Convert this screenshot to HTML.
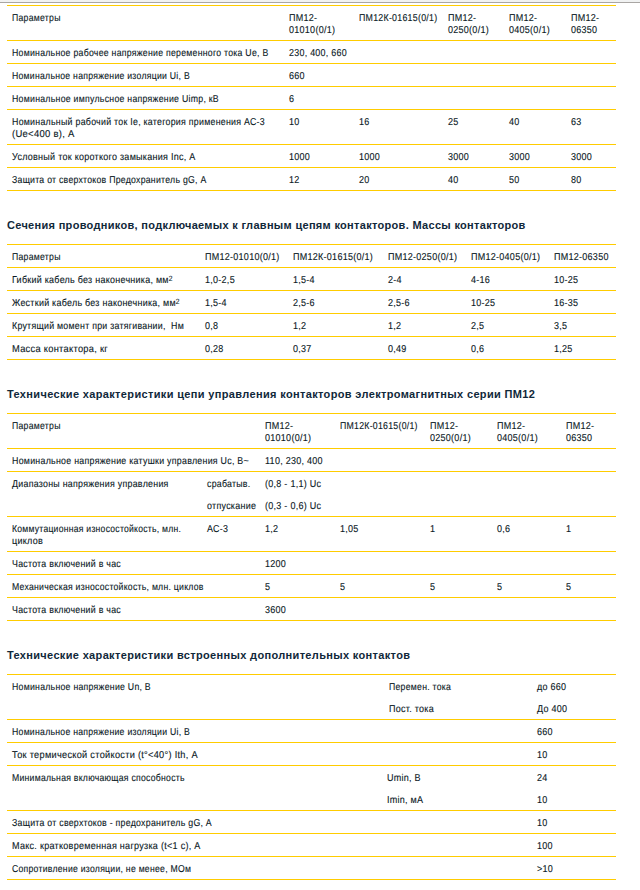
<!DOCTYPE html>
<html><head><meta charset="utf-8">
<style>
html,body{margin:0;padding:0;background:#fff;}
body{width:640px;height:890px;position:relative;overflow:hidden;}
.top0{position:absolute;left:0;top:0;width:640px;height:2px;background:#f1f2f2;}
.top1{position:absolute;left:0;top:2px;width:640px;height:1px;background:#a9a6a3;}
.ln{position:absolute;height:1px;background:#ffcc00;}
sup{font-size:7.5px;line-height:0;vertical-align:2px;}
.t{position:absolute;white-space:nowrap;text-rendering:geometricPrecision;font-family:"Liberation Sans",sans-serif;font-size:10px;line-height:12px;color:#0a1824;letter-spacing:0.3px;-webkit-text-stroke:0.12px #0a1824;transform-origin:0 0;transform:scaleX(0.9);}
.h{position:absolute;white-space:nowrap;font-family:"Liberation Sans",sans-serif;font-size:11px;font-weight:bold;line-height:14px;color:#10283a;}
</style></head><body>
<div class="top0"></div><div class="top1"></div>
<div class="ln" style="top:5px;left:7px;width:609px"></div>
<div class="ln" style="top:40px;left:7px;width:609px"></div>
<div class="ln" style="top:63px;left:7px;width:609px"></div>
<div class="ln" style="top:86px;left:7px;width:609px"></div>
<div class="ln" style="top:109px;left:7px;width:609px"></div>
<div class="ln" style="top:144px;left:7px;width:609px"></div>
<div class="ln" style="top:167px;left:7px;width:609px"></div>
<div class="ln" style="top:190px;left:7px;width:609px"></div>
<span class="t" style="left:12.0px;top:13px;transform:scaleX(0.8686)">Параметры</span>
<span class="t" style="left:289.0px;top:13px;transform:scaleX(0.9000)">ПМ12-</span>
<span class="t" style="left:289.0px;top:25px;transform:scaleX(0.9000)">01010(0/1)</span>
<span class="t" style="left:359.0px;top:13px;transform:scaleX(0.8809)">ПМ12К-01615(0/1)</span>
<span class="t" style="left:448.0px;top:13px;transform:scaleX(0.9000)">ПМ12-</span>
<span class="t" style="left:448.0px;top:25px;transform:scaleX(0.9000)">0250(0/1)</span>
<span class="t" style="left:509.0px;top:13px;transform:scaleX(0.9000)">ПМ12-</span>
<span class="t" style="left:509.0px;top:25px;transform:scaleX(0.9000)">0405(0/1)</span>
<span class="t" style="left:571.0px;top:13px;transform:scaleX(0.9000)">ПМ12-</span>
<span class="t" style="left:571.0px;top:25px;transform:scaleX(0.9000)">06350</span>
<span class="t" style="left:12.0px;top:48px;transform:scaleX(0.8725)">Номинальное рабочее напряжение переменного тока Ue, В</span>
<span class="t" style="left:289.0px;top:48px;transform:scaleX(0.8909)">230, 400, 660</span>
<span class="t" style="left:12.0px;top:71px;transform:scaleX(0.8682)">Номинальное напряжение изоляции Ui, В</span>
<span class="t" style="left:289.0px;top:71px;transform:scaleX(0.9000)">660</span>
<span class="t" style="left:12.0px;top:94px;transform:scaleX(0.8750)">Номинальное импульсное напряжение Uimp, кВ</span>
<span class="t" style="left:289.0px;top:94px;transform:scaleX(0.9000)">6</span>
<span class="t" style="left:12.0px;top:117px;transform:scaleX(0.8813)">Номинальный рабочий ток Ie, категория применения АС-3</span>
<span class="t" style="left:12.0px;top:129px;transform:scaleX(0.9449)">(Ue&lt;400 в), А</span>
<span class="t" style="left:289.0px;top:117px;transform:scaleX(0.9000)">10</span>
<span class="t" style="left:359.0px;top:117px;transform:scaleX(0.9000)">16</span>
<span class="t" style="left:448.0px;top:117px;transform:scaleX(0.9000)">25</span>
<span class="t" style="left:509.0px;top:117px;transform:scaleX(0.9000)">40</span>
<span class="t" style="left:571.0px;top:117px;transform:scaleX(0.9000)">63</span>
<span class="t" style="left:12.0px;top:152px;transform:scaleX(0.8997)">Условный ток короткого замыкания Inc, А</span>
<span class="t" style="left:289.0px;top:152px;transform:scaleX(0.9000)">1000</span>
<span class="t" style="left:359.0px;top:152px;transform:scaleX(0.9000)">1000</span>
<span class="t" style="left:448.0px;top:152px;transform:scaleX(0.9000)">3000</span>
<span class="t" style="left:509.0px;top:152px;transform:scaleX(0.9000)">3000</span>
<span class="t" style="left:571.0px;top:152px;transform:scaleX(0.9000)">3000</span>
<span class="t" style="left:12.0px;top:175px;transform:scaleX(0.8713)">Защита от сверхтоков Предохранитель gG, А</span>
<span class="t" style="left:289.0px;top:175px;transform:scaleX(0.9000)">12</span>
<span class="t" style="left:359.0px;top:175px;transform:scaleX(0.9000)">20</span>
<span class="t" style="left:448.0px;top:175px;transform:scaleX(0.9000)">40</span>
<span class="t" style="left:509.0px;top:175px;transform:scaleX(0.9000)">50</span>
<span class="t" style="left:571.0px;top:175px;transform:scaleX(0.9000)">80</span>
<span class="h" style="left:7px;top:218px;letter-spacing:0.31px">Сечения проводников, подключаемых к главным цепям контакторов. Массы контакторов</span>
<div class="ln" style="top:244px;left:7px;width:609px"></div>
<div class="ln" style="top:267px;left:7px;width:609px"></div>
<div class="ln" style="top:290px;left:7px;width:609px"></div>
<div class="ln" style="top:313px;left:7px;width:609px"></div>
<div class="ln" style="top:336px;left:7px;width:609px"></div>
<div class="ln" style="top:359px;left:7px;width:609px"></div>
<span class="t" style="left:12.3px;top:252px;transform:scaleX(0.8686)">Параметры</span>
<span class="t" style="left:205.0px;top:252px;transform:scaleX(0.9000)">ПМ12-01010(0/1)</span>
<span class="t" style="left:293.0px;top:252px;transform:scaleX(0.9000)">ПМ12К-01615(0/1)</span>
<span class="t" style="left:388.0px;top:252px;transform:scaleX(0.9000)">ПМ12-0250(0/1)</span>
<span class="t" style="left:471.0px;top:252px;transform:scaleX(0.9000)">ПМ12-0405(0/1)</span>
<span class="t" style="left:554.0px;top:252px;transform:scaleX(0.9000)">ПМ12-06350</span>
<span class="t" style="left:12.3px;top:275px;transform:scaleX(0.8948)">Гибкий кабель без наконечника, мм<sup>2</sup></span>
<span class="t" style="left:205.0px;top:275px;transform:scaleX(0.9000)">1,0-2,5</span>
<span class="t" style="left:293.0px;top:275px;transform:scaleX(0.9000)">1,5-4</span>
<span class="t" style="left:388.0px;top:275px;transform:scaleX(0.9000)">2-4</span>
<span class="t" style="left:471.0px;top:275px;transform:scaleX(0.9000)">4-16</span>
<span class="t" style="left:554.0px;top:275px;transform:scaleX(0.9000)">10-25</span>
<span class="t" style="left:12.3px;top:298px;transform:scaleX(0.8921)">Жесткий кабель без наконечника, мм<sup>2</sup></span>
<span class="t" style="left:205.0px;top:298px;transform:scaleX(0.9000)">1,5-4</span>
<span class="t" style="left:293.0px;top:298px;transform:scaleX(0.9000)">2,5-6</span>
<span class="t" style="left:388.0px;top:298px;transform:scaleX(0.9000)">2,5-6</span>
<span class="t" style="left:471.0px;top:298px;transform:scaleX(0.9000)">10-25</span>
<span class="t" style="left:554.0px;top:298px;transform:scaleX(0.9000)">16-35</span>
<span class="t" style="left:12.3px;top:321px;transform:scaleX(0.8806)">Крутящий момент при затягивании,&nbsp; Нм</span>
<span class="t" style="left:205.0px;top:321px;transform:scaleX(0.9000)">0,8</span>
<span class="t" style="left:293.0px;top:321px;transform:scaleX(0.9000)">1,2</span>
<span class="t" style="left:388.0px;top:321px;transform:scaleX(0.9000)">1,2</span>
<span class="t" style="left:471.0px;top:321px;transform:scaleX(0.9000)">2,5</span>
<span class="t" style="left:554.0px;top:321px;transform:scaleX(0.9000)">3,5</span>
<span class="t" style="left:12.3px;top:344px;transform:scaleX(0.9307)">Масса контактора, кг</span>
<span class="t" style="left:205.0px;top:344px;transform:scaleX(0.9000)">0,28</span>
<span class="t" style="left:293.0px;top:344px;transform:scaleX(0.9000)">0,37</span>
<span class="t" style="left:388.0px;top:344px;transform:scaleX(0.9000)">0,49</span>
<span class="t" style="left:471.0px;top:344px;transform:scaleX(0.9000)">0,6</span>
<span class="t" style="left:554.0px;top:344px;transform:scaleX(0.9000)">1,25</span>
<span class="h" style="left:7px;top:387px;letter-spacing:0.35px">Технические характеристики цепи управления контакторов электромагнитных серии ПМ12</span>
<div class="ln" style="top:413px;left:7px;width:609px"></div>
<div class="ln" style="top:448px;left:7px;width:609px"></div>
<div class="ln" style="top:471px;left:7px;width:609px"></div>
<div class="ln" style="top:516px;left:7px;width:609px"></div>
<div class="ln" style="top:551px;left:7px;width:609px"></div>
<div class="ln" style="top:574px;left:7px;width:609px"></div>
<div class="ln" style="top:597px;left:7px;width:609px"></div>
<div class="ln" style="top:620px;left:7px;width:609px"></div>
<span class="t" style="left:12.0px;top:421px;transform:scaleX(0.8686)">Параметры</span>
<span class="t" style="left:265.0px;top:421px;transform:scaleX(0.9000)">ПМ12-</span>
<span class="t" style="left:265.0px;top:433px;transform:scaleX(0.9000)">01010(0/1)</span>
<span class="t" style="left:340.0px;top:421px;transform:scaleX(0.8740)">ПМ12К-01615(0/1)</span>
<span class="t" style="left:430.0px;top:421px;transform:scaleX(0.9000)">ПМ12-</span>
<span class="t" style="left:430.0px;top:433px;transform:scaleX(0.9000)">0250(0/1)</span>
<span class="t" style="left:497.0px;top:421px;transform:scaleX(0.9000)">ПМ12-</span>
<span class="t" style="left:497.0px;top:433px;transform:scaleX(0.9000)">0405(0/1)</span>
<span class="t" style="left:566.0px;top:421px;transform:scaleX(0.9000)">ПМ12-</span>
<span class="t" style="left:566.0px;top:433px;transform:scaleX(0.9000)">06350</span>
<span class="t" style="left:12.0px;top:456px;transform:scaleX(0.8833)">Номинальное напряжение катушки управления Uc, В~</span>
<span class="t" style="left:265.0px;top:456px;transform:scaleX(0.9000)">110, 230, 400</span>
<span class="t" style="left:12.0px;top:479px;transform:scaleX(0.8848)">Диапазоны напряжения управления</span>
<span class="t" style="left:207.0px;top:479px;transform:scaleX(0.8775)">срабатыв.</span>
<span class="t" style="left:265.0px;top:479px;transform:scaleX(0.9000)">(0,8 - 1,1) Uc</span>
<span class="t" style="left:207.0px;top:501px;transform:scaleX(0.8932)">отпускание</span>
<span class="t" style="left:265.0px;top:501px;transform:scaleX(0.9000)">(0,3 - 0,6) Uc</span>
<span class="t" style="left:12.0px;top:524px;transform:scaleX(0.8599)">Коммутационная износостойкость, млн.</span>
<span class="t" style="left:12.0px;top:536px;transform:scaleX(0.9000)">циклов</span>
<span class="t" style="left:207.0px;top:524px;transform:scaleX(0.8912)">АС-3</span>
<span class="t" style="left:265.0px;top:524px;transform:scaleX(0.9000)">1,2</span>
<span class="t" style="left:340.0px;top:524px;transform:scaleX(0.9000)">1,05</span>
<span class="t" style="left:430.0px;top:524px;transform:scaleX(0.9000)">1</span>
<span class="t" style="left:497.0px;top:524px;transform:scaleX(0.9000)">0,6</span>
<span class="t" style="left:566.0px;top:524px;transform:scaleX(0.9000)">1</span>
<span class="t" style="left:12.0px;top:559px;transform:scaleX(0.8804)">Частота включений в час</span>
<span class="t" style="left:265.0px;top:559px;transform:scaleX(0.9000)">1200</span>
<span class="t" style="left:12.0px;top:582px;transform:scaleX(0.8667)">Механическая износостойкость, млн. циклов</span>
<span class="t" style="left:265.0px;top:582px;transform:scaleX(0.9000)">5</span>
<span class="t" style="left:340.0px;top:582px;transform:scaleX(0.9000)">5</span>
<span class="t" style="left:430.0px;top:582px;transform:scaleX(0.9000)">5</span>
<span class="t" style="left:497.0px;top:582px;transform:scaleX(0.9000)">5</span>
<span class="t" style="left:566.0px;top:582px;transform:scaleX(0.9000)">5</span>
<span class="t" style="left:12.0px;top:605px;transform:scaleX(0.8804)">Частота включений в час</span>
<span class="t" style="left:265.0px;top:605px;transform:scaleX(0.9000)">3600</span>
<span class="h" style="left:7px;top:648px;letter-spacing:0.34px">Технические характеристики встроенных дополнительных контактов</span>
<div class="ln" style="top:674px;left:7px;width:609px"></div>
<div class="ln" style="top:719px;left:7px;width:609px"></div>
<div class="ln" style="top:742px;left:7px;width:609px"></div>
<div class="ln" style="top:765px;left:7px;width:609px"></div>
<div class="ln" style="top:810px;left:7px;width:609px"></div>
<div class="ln" style="top:833px;left:7px;width:609px"></div>
<div class="ln" style="top:856px;left:7px;width:609px"></div>
<div class="ln" style="top:879px;left:7px;width:609px"></div>
<span class="t" style="left:12.0px;top:682px;transform:scaleX(0.8724)">Номинальное напряжение Un, В</span>
<span class="t" style="left:389.0px;top:682px;transform:scaleX(0.8695)">Перемен. тока</span>
<span class="t" style="left:537.0px;top:682px;transform:scaleX(0.8964)">до 660</span>
<span class="t" style="left:389.0px;top:704px;transform:scaleX(0.9000)">Пост. тока</span>
<span class="t" style="left:537.0px;top:704px;transform:scaleX(0.9000)">До 400</span>
<span class="t" style="left:12.0px;top:727px;transform:scaleX(0.8692)">Номинальное напряжение изоляции Ui, В</span>
<span class="t" style="left:537.0px;top:727px;transform:scaleX(0.9000)">660</span>
<span class="t" style="left:12.0px;top:750px;transform:scaleX(0.9212)">Ток термической стойкости (t°&lt;40°) Ith, А</span>
<span class="t" style="left:537.0px;top:750px;transform:scaleX(0.9000)">10</span>
<span class="t" style="left:12.0px;top:773px;transform:scaleX(0.8663)">Минимальная включающая способность</span>
<span class="t" style="left:387.0px;top:773px;transform:scaleX(0.9000)">Umin, В</span>
<span class="t" style="left:537.0px;top:773px;transform:scaleX(0.9000)">24</span>
<span class="t" style="left:387.0px;top:795px;transform:scaleX(0.9000)">Imin, мА</span>
<span class="t" style="left:537.0px;top:795px;transform:scaleX(0.9000)">10</span>
<span class="t" style="left:12.0px;top:818px;transform:scaleX(0.8766)">Защита от сверхтоков - предохранитель gG, А</span>
<span class="t" style="left:537.0px;top:818px;transform:scaleX(0.9000)">10</span>
<span class="t" style="left:12.0px;top:841px;transform:scaleX(0.9046)">Макс. кратковременная нагрузка (t&lt;1 с), А</span>
<span class="t" style="left:537.0px;top:841px;transform:scaleX(0.9000)">100</span>
<span class="t" style="left:12.0px;top:864px;transform:scaleX(0.8659)">Сопротивление изоляции, не менее, МОм</span>
<span class="t" style="left:537.0px;top:864px;transform:scaleX(0.9000)">&gt;10</span>
</body></html>
